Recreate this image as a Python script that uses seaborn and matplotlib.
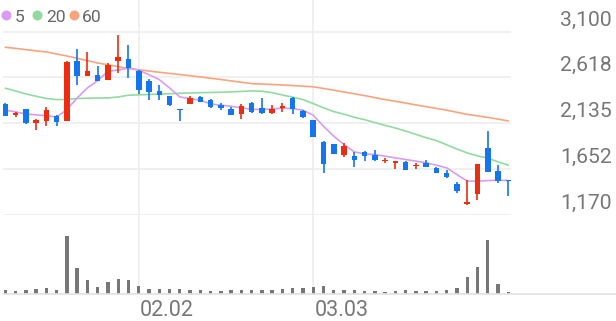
import numpy as np
import pandas as pd
import matplotlib
matplotlib.use("Agg")
import matplotlib.pyplot as plt
import seaborn as sns
from matplotlib.lines import Line2D
from matplotlib.transforms import blended_transform_factory

# ---------------- data ----------------
opens = [2336, 2217, 2280, 2139, 2157, 2210, 2157, 2789, 2634, 2639,
         2586, 2789, 2810, 2681, 2575, 2470, 2417, 2284, 2336, 2410,
         2378, 2326, 2284, 2228, 2347, 2291, 2241, 2291, 2399, 2262,
         2164, 1936, 1912, 1802, 1788, 1834, 1802, 1733, 1715, 1725,
         1680, 1718, 1662, 1612, 1490, 1286, 1391, 1876, 1627, 1539]
highs = [2341, 2252, 2287, 2175, 2308, 2220, 2789, 2919, 2881, 2733,
         2765, 3060, 2958, 2694, 2600, 2533, 2424, 2284, 2417, 2424,
         2389, 2347, 2301, 2333, 2357, 2399, 2323, 2350, 2407, 2270,
         2168, 1943, 1918, 1929, 1831, 1841, 1848, 1767, 1739, 1730,
         1718, 1746, 1672, 1644, 1514, 1536, 1704, 2049, 1690, 1539]
lows = [2205, 2202, 2129, 2065, 2108, 2108, 2154, 2533, 2634, 2573,
        2584, 2663, 2610, 2445, 2375, 2375, 2315, 2160, 2333, 2354,
        2294, 2270, 2215, 2175, 2245, 2231, 2231, 2252, 2231, 2189,
        1983, 1609, 1806, 1775, 1672, 1739, 1733, 1711, 1655, 1636,
        1651, 1672, 1604, 1557, 1395, 1265, 1328, 1617, 1501, 1364]
closes = [2213, 2245, 2136, 2168, 2276, 2143, 2782, 2631, 2681, 2579,
          2744, 2828, 2712, 2481, 2459, 2434, 2323, 2273, 2399, 2357,
          2301, 2294, 2220, 2312, 2252, 2238, 2280, 2312, 2284, 2196,
          1985, 1707, 1813, 1897, 1743, 1792, 1743, 1750, 1739, 1641,
          1697, 1676, 1609, 1564, 1423, 1307, 1704, 1620, 1528, 1522]
ma5 = [2270, 2252, 2231, 2220, 2213, 2199, 2276, 2399, 2505, 2582,
       2681, 2694, 2715, 2691, 2645, 2592, 2505, 2410, 2392, 2375,
       2336, 2323, 2312, 2294, 2280, 2276, 2284, 2291, 2287, 2270,
       2217, 2101, 1996, 1907, 1831, 1809, 1802, 1785, 1767, 1750,
       1733, 1715, 1690, 1662, 1591, 1522, 1522, 1528, 1532, 1528]
ma20 = [2502, 2473, 2442, 2417, 2394, 2382, 2384, 2394, 2396, 2399,
        2399, 2410, 2428, 2432, 2436, 2440, 2444, 2448, 2452, 2455,
        2457, 2460, 2463, 2468, 2473, 2470, 2455, 2430, 2408, 2382,
        2340, 2296, 2255, 2228, 2195, 2170, 2140, 2110, 2082, 2050,
        2015, 1980, 1950, 1905, 1860, 1820, 1788, 1765, 1725, 1690]
ma60 = [2934, 2922, 2909, 2896, 2884, 2863, 2842, 2817, 2793, 2768,
        2749, 2729, 2710, 2697, 2683, 2670, 2658, 2646, 2634, 2621,
        2607, 2594, 2579, 2565, 2550, 2546, 2541, 2536, 2530, 2523,
        2517, 2499, 2481, 2462, 2443, 2424, 2403, 2382, 2364, 2345,
        2326, 2307, 2289, 2270, 2248, 2226, 2210, 2194, 2176, 2157]
volumes = [33, 23, 40, 47, 60, 40, 583, 257, 133, 70,
           120, 143, 140, 73, 50, 50, 47, 47, 40, 33,
           30, 30, 33, 37, 33, 37, 33, 43, 57, 57,
           63, 77, 40, 33, 37, 27, 27, 20, 23, 33,
           27, 23, 27, 40, 57, 167, 267, 543, 97, 17]
volumes = [v * 1000 for v in volumes]
price_ticks = [1170, 1652, 2135, 2618, 3100]
date_labels = ["02.02", "03.03"]
date_positions = [13, 30]
legend_labels = ["5", "20", "60"]

# ---------------- style ----------------
RED = "#ec2d10"
BLUE = "#1476ef"
C5, C20, C60 = "#d99cf0", "#92dba0", "#f9a47d"
GRID = "#eeeeee"
TXT = "#777777"

sns.set_theme(style="white")
plt.rcParams["font.family"] = ["Roboto", "DejaVu Sans"]

W, H = 616, 321
fig = plt.figure(figsize=(W / 100, H / 100), dpi=100)


def px_rect(l, t, r, b):
    return [l / W, 1 - b / H, (r - l) / W, (b - t) / H]


ax = fig.add_axes(px_rect(3, 0, 511, 214.5))
axv = fig.add_axes(px_rect(3, 214.5, 511, 293.5))

n = len(closes)
x = np.arange(n)
step = 10.265
xlim = (-(5.3 - 3) / step, (511 - 5.3) / step)

# price axis scale: 3100 at 31.5 px, 482.5 per 45.75 px
ylo = 1170
yhi = 3100 + 31.5 / 45.75 * 482.5
ax.set_xlim(*xlim)
ax.set_ylim(ylo, yhi)
axv.set_xlim(*xlim)
axv.set_ylim(0, 583000 * 79 / 57.8)

for a in (ax, axv):
    for s in a.spines.values():
        s.set_visible(False)
    a.tick_params(left=False, bottom=False, right=False, labelleft=False,
                  labelbottom=False)
    a.set_xlabel("")
    a.set_ylabel("")
    a.set_facecolor("none")

ax.set_yticks(price_ticks)
ax.set_xticks([])
axv.set_xticks([])
axv.set_yticks([])
ax.grid(axis="y", color=GRID, lw=1.2)
ax.set_axisbelow(True)

for p in date_positions:
    ax.axvline(p, color=GRID, lw=1.2, zorder=0)
    axv.axvline(p, color=GRID, lw=1.2, zorder=0)

# moving averages (seaborn)
df = pd.DataFrame({
    "idx": np.concatenate([x, x, x]),
    "value": ma60 + ma20 + ma5,
    "ma": ["60"] * n + ["20"] * n + ["5"] * n,
})
sns.lineplot(data=df, x="idx", y="value", hue="ma",
             palette={"5": C5, "20": C20, "60": C60},
             ax=ax, legend=False, linewidth=1.2, zorder=2)
ax.set_xlabel("")
ax.set_ylabel("")

# candles
for i in range(n):
    o, h, l, c = opens[i], highs[i], lows[i], closes[i]
    col = RED if c > o else BLUE
    ax.vlines(i, l, h, color=col, lw=1.2, zorder=3)
    body = max(abs(c - o), 14)
    bottom = min(o, c)
    if abs(c - o) < 14:
        bottom = (o + c) / 2 - 7
    ax.bar(i, body, bottom=bottom, width=0.54, color=col, zorder=4,
           linewidth=0)

# volume
axv.bar(x, volumes, width=0.33, color="#777777", linewidth=0, zorder=2)

# volume baseline
fig.add_artist(Line2D([3 / W, 1], [1 - 293.5 / H] * 2,
                      transform=fig.transFigure, color="#e2e2e2", lw=1.2))

# y labels (right side, above gridlines)
tr = blended_transform_factory(ax.transAxes, ax.transData)
for v in price_ticks:
    ax.annotate(f"{v:,}", xy=(1, v), xycoords=tr,
                xytext=(101 * 0.72, 6 * 0.72), textcoords="offset points",
                ha="right", va="baseline", fontsize=15.2, color=TXT,
                annotation_clip=False)

# date labels
trv = blended_transform_factory(axv.transData, axv.transAxes)
for p, lab in zip(date_positions, date_labels):
    axv.annotate(lab, xy=(p, 0), xycoords=trv,
                 xytext=(1.5 * 0.72, -23 * 0.72), textcoords="offset points",
                 ha="left", va="baseline", fontsize=15.5, color=TXT,
                 annotation_clip=False)

# legend
dots = [(6, C5), (37, C20), (74, C60)]
text_x = [15, 46, 82]
for (dx, col), tx, lab in zip(dots, text_x, legend_labels):
    fig.add_artist(Line2D([dx / W], [1 - 15 / H], marker="o", markersize=7.2,
                          color=col, markeredgewidth=0, linestyle="none",
                          transform=fig.transFigure))
    fig.text(tx / W, 1 - 21.7 / H, lab, ha="left", va="baseline",
             fontsize=12.6, color="#666666")

fig.savefig("out.png", dpi=100)
